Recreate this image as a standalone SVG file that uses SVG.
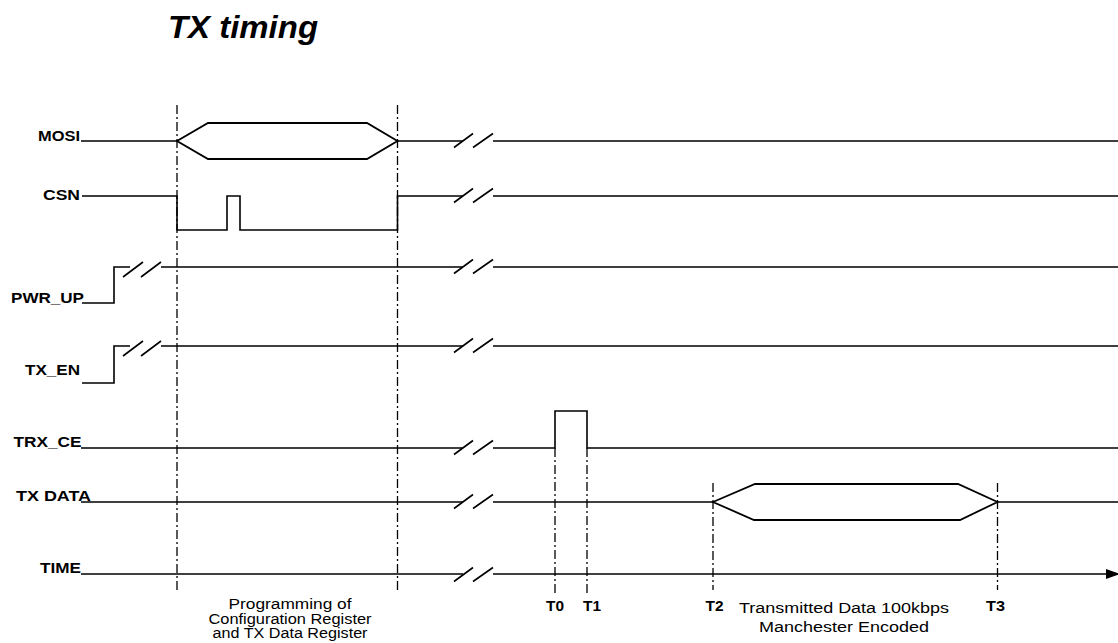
<svg xmlns="http://www.w3.org/2000/svg" width="1118" height="643" viewBox="0 0 1118 643">
<style>
.sig{fill:none;stroke:#000;stroke-width:1.6;stroke-linejoin:miter}
.hex{fill:none;stroke:#000;stroke-width:1.8}
.brk{stroke:#000;stroke-width:1.6;fill:none}
.mk{stroke:#000;stroke-width:1.3;stroke-dasharray:9 3 2 3;fill:none}
.lbl{font-family:"Liberation Sans",Arial,sans-serif;font-weight:bold;font-size:14px;fill:#000}
.note{font-family:"Liberation Sans",Arial,sans-serif;font-size:14px;fill:#000}
.title{font-family:"Liberation Sans",Arial,sans-serif;font-weight:bold;font-style:italic;font-size:32px;fill:#000}
</style>
<defs>
<marker id="arr" markerWidth="14" markerHeight="10" refX="13" refY="5" orient="auto" markerUnits="userSpaceOnUse">
<path d="M0,0 L14,5 L0,10 Z" fill="#000"/>
</marker>
<g id="brk">
<path class="brk" d="M454,6.5 L473,-7.5 M473,6.5 L493,-7.5"/>
</g>
</defs>
<rect width="1118" height="643" fill="#fff"/>
<text class="title" x="168" y="38" textLength="150" lengthAdjust="spacingAndGlyphs">TX timing</text>

<g id="connectors">
<line class="mk" x1="177" y1="105" x2="177" y2="592"/>
<line class="mk" x1="397.5" y1="105" x2="397.5" y2="592"/>
<line class="mk" x1="555" y1="448" x2="555" y2="593"/>
<line class="mk" x1="587" y1="448" x2="587" y2="593"/>
<line class="mk" x1="713" y1="483" x2="713" y2="590"/>
<line class="mk" x1="997.5" y1="483" x2="997.5" y2="590"/>
</g>

<g id="MOSI">
<text class="lbl" x="38" y="141" textLength="42" lengthAdjust="spacingAndGlyphs">MOSI</text>
<path class="sig" d="M81,141 H177 M397.5,141 H463 M493,141 H1118"/>
<path class="hex" d="M177,141 L208,123 H367 L397.5,141 L367,159 H208 Z"/>
<use href="#brk" transform="translate(0,141)"/>
</g>

<g id="CSN">
<text class="lbl" x="43" y="200" textLength="37" lengthAdjust="spacingAndGlyphs">CSN</text>
<path class="sig" d="M82,196 H177 V230 H227 V196 H240 V230 H397.5 V196 H463 M493,196 H1118"/>
<use href="#brk" transform="translate(0,196)"/>
</g>

<g id="PWR_UP">
<text class="lbl" x="11" y="303" textLength="73" lengthAdjust="spacingAndGlyphs">PWR_UP</text>
<path class="sig" d="M82,303 H114 V267 H130 M161,267 H463 M493,267 H1118"/>
<path class="brk" d="M123,277 L143,262 M141,277 L161,262"/>
<use href="#brk" transform="translate(0,267)"/>
</g>

<g id="TX_EN">
<text class="lbl" x="25" y="375" textLength="55" lengthAdjust="spacingAndGlyphs">TX_EN</text>
<path class="sig" d="M82,383 H114 V346 H130 M161,346 H463 M493,346 H1118"/>
<path class="brk" d="M123,356 L143,341 M141,356 L161,341"/>
<use href="#brk" transform="translate(0,346)"/>
</g>

<g id="TRX_CE">
<text class="lbl" x="13.5" y="447" textLength="68" lengthAdjust="spacingAndGlyphs">TRX_CE</text>
<path class="sig" d="M81,448 H463 M493,448 H555 V411 H587 V448 H1118"/>
<use href="#brk" transform="translate(0,448)"/>
</g>

<g id="TX_DATA">
<text class="lbl" x="16" y="501" textLength="75" lengthAdjust="spacingAndGlyphs">TX DATA</text>
<path class="sig" d="M81,502 H463 M493,502 H713 M997.5,502 H1118"/>
<path class="hex" d="M713,502 L755,484 H958 L997.5,502 L960,520 H754 Z"/>
<use href="#brk" transform="translate(0,502)"/>
</g>

<g id="TIME">
<text class="lbl" x="40" y="573" textLength="41" lengthAdjust="spacingAndGlyphs">TIME</text>
<path class="sig" d="M81,574 H463"/>
<path class="sig" d="M493,574 H1119" marker-end="url(#arr)"/>
<use href="#brk" transform="translate(0,575)"/>
<text class="lbl" x="546" y="611" textLength="18" lengthAdjust="spacingAndGlyphs">T0</text>
<text class="lbl" x="583" y="611" textLength="18" lengthAdjust="spacingAndGlyphs">T1</text>
<text class="lbl" x="705.5" y="611" textLength="18" lengthAdjust="spacingAndGlyphs">T2</text>
<text class="lbl" x="986" y="611" textLength="19" lengthAdjust="spacingAndGlyphs">T3</text>
</g>

<g id="prog_note">
<text class="note" x="290" y="609" text-anchor="middle" textLength="123" lengthAdjust="spacingAndGlyphs">Programming of</text>
<text class="note" x="290" y="623.5" text-anchor="middle" textLength="163" lengthAdjust="spacingAndGlyphs">Configuration Register</text>
<text class="note" x="290" y="638" text-anchor="middle" textLength="155" lengthAdjust="spacingAndGlyphs">and TX Data Register</text>
</g>

<g id="tx_note">
<text class="note" x="844" y="613" text-anchor="middle" font-size="15" textLength="210" lengthAdjust="spacingAndGlyphs">Transmitted Data 100kbps</text>
<text class="note" x="844" y="631.5" text-anchor="middle" font-size="15" textLength="170" lengthAdjust="spacingAndGlyphs">Manchester Encoded</text>
</g>
</svg>
